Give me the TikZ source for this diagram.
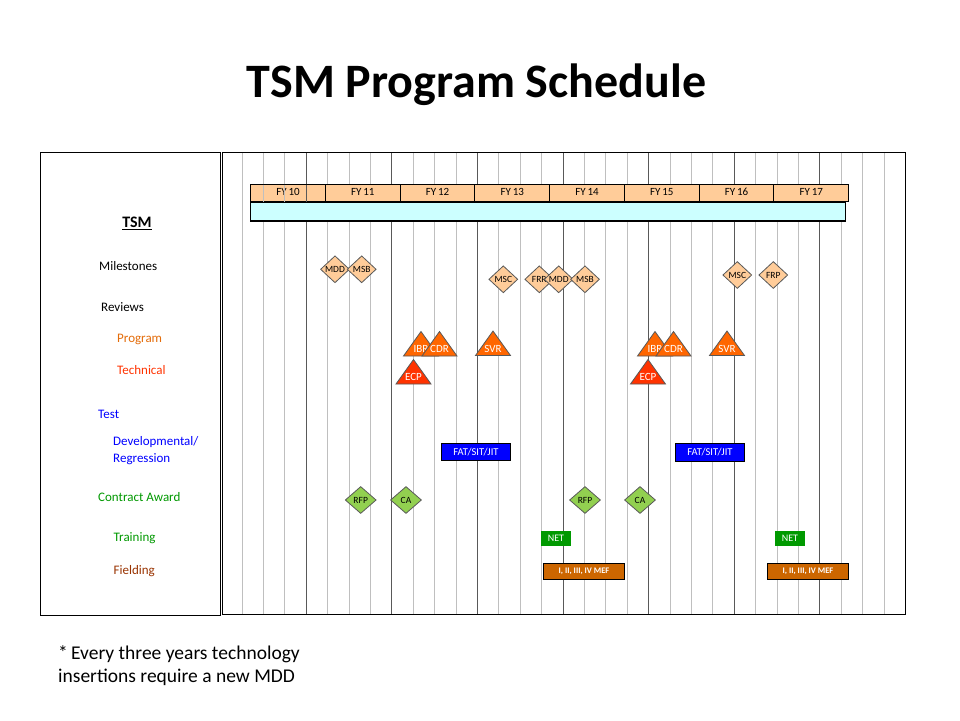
\documentclass[tikz,border=0pt]{standalone}
\usepackage{fontspec}
\setmainfont{Carlito}
\usetikzlibrary{shapes.geometric}

\definecolor{peach}{HTML}{FFCC99}
\definecolor{tsmcyan}{HTML}{CCFFFF}
\definecolor{gridlight}{HTML}{BFBFBF}
\definecolor{griddark}{HTML}{595959}
\definecolor{progfill}{HTML}{FF6600}
\definecolor{techfill}{HTML}{FF3300}
\definecolor{testblue}{HTML}{0000FF}
\definecolor{awardgreen}{HTML}{92D050}
\definecolor{netgreen}{HTML}{009900}
\definecolor{fieldfill}{HTML}{CC6600}
\definecolor{proglbl}{HTML}{E46C0A}
\definecolor{techlbl}{HTML}{FF3300}
\definecolor{greenlbl}{HTML}{009900}
\definecolor{fieldlbl}{HTML}{993300}

\tikzset{
  px/.style={font=\fontsize{#1}{#1}\selectfont},
  pxb/.style={font=\fontsize{#1}{#1}\selectfont\bfseries},
  title/.style={pxb=48, inner sep=0},
  panel/.style={draw=black, line width=1pt},
  gridl/.style={draw=gridlight, line width=1pt},
  gridd/.style={draw=griddark, line width=1pt},
  rowlbl/.style={anchor=west, inner sep=0, text height=0.64em, text depth=0pt, px=13},
  fycell/.style={draw=black, fill=peach, line width=1pt, anchor=north west,
    minimum width=74.75pt, minimum height=17.5pt, inner sep=0, outer sep=0,
    px=11, text height=0.64em, text depth=0pt},
  tsmbar/.style={draw=black, fill=tsmcyan, line width=1.2pt, anchor=north west,
    minimum width=594.6pt, minimum height=18.5pt, inner sep=0, outer sep=0},
  msdiamond/.style={diamond, draw=griddark, fill=peach, line width=0.8pt,
    minimum width=29pt, minimum height=27pt, inner sep=0, px=9.5},
  awdiamond/.style={diamond, draw=griddark, fill=awardgreen, line width=0.8pt,
    minimum width=31pt, minimum height=27pt, inner sep=0, px=9.5},
  tritext/.style={text=white, inner sep=0, px=11, text height=0.64em, text depth=0pt},
  testbox/.style={draw=black, fill=testblue, text=white, line width=1pt,
    minimum width=69.4pt, minimum height=17.4pt, inner sep=0, px=10.5},
  netbox/.style={fill=netgreen, text=white,
    minimum width=29.4pt, minimum height=14.7pt, inner sep=0, px=10},
  mefbox/.style={draw=black, fill=fieldfill, text=white, line width=1pt,
    minimum width=81.4pt, minimum height=16pt, inner sep=0, pxb=8.5},
  note/.style={anchor=west, inner sep=0, px=19.5, text height=0.64em, text depth=0pt},
  pics/revtri/.style n args={2}{code={
    \path[draw=griddark, fill=#1, line width=0.8pt]
      (0,0) -- (17.5,24.5) -- (-17.5,24.5) -- cycle;
    \node[tritext] (-lbl) at (0,18) {#2};
  }}
}

\begin{document}
\begin{tikzpicture}[x=1pt,y=-1pt]
\useasboundingbox[fill=white] (0,0) rectangle (960,720);

% heading
\node[title] (head) at (476.5,85) {TSM Program Schedule};

% quarter grid: light lines, every fourth one darker
\foreach \k in {0,...,30}
  \draw[gridl] ({242+21.4*\k},152) -- ({242+21.4*\k},614);
\foreach \k in {3,7,...,27}
  \draw[gridd] ({242+21.4*\k},152) -- ({242+21.4*\k},614);

% panels
\draw[panel] (40,152) rectangle (220,615);
\draw[panel] (222,152) rectangle (905,614);

% fiscal year header
\foreach \i/\yr in {0/10,1/11,2/12,3/13,4/14,5/15,6/16,7/17}
  \node[fycell] (fy\yr) at ({250.7+74.75*\i},184) {FY\,\yr};
\foreach \k in {1,2}
  \draw[gridl] ({242+21.4*\k},184.5) -- ({242+21.4*\k},201.5);
\draw[gridd] ({242+21.4*3},184.5) -- ({242+21.4*3},201.5);

% TSM bar
\node[tsmbar] (tsm) at (250.7,202.5) {};

% row titles
\node[pxb=16, inner sep=0] (ltsm) at (137,223) {\underline{TSM}};
\node[rowlbl] (lmile) at (99,267) {Milestones};
\node[rowlbl] (lrev) at (101,308) {Reviews};
\node[rowlbl, text=proglbl] (lprog) at (117,339) {Program};
\node[rowlbl, text=techlbl] (ltech) at (117,371) {Technical};
\node[rowlbl, text=testblue] (ltest) at (98,415) {Test};
\node[rowlbl, text=testblue] (ldev) at (113,442) {Developmental/};
\node[rowlbl, text=testblue] (lreg) at (113,459) {Regression};
\node[rowlbl, text=greenlbl] (laward) at (98,498) {Contract Award};
\node[rowlbl, text=greenlbl] (ltrain) at (113.5,538) {Training};
\node[rowlbl, text=fieldlbl] (lfield) at (113.5,571) {Fielding};

% milestones
\node[msdiamond] (mdda) at (335,269.3) {MDD};
\node[msdiamond] (msba) at (361.7,269.3) {MSB};
\node[msdiamond] (msca) at (503.3,279.3) {MSC};
\node[msdiamond] (frr) at (539.3,279.3) {FRR};
\node[msdiamond] (mddb) at (558.7,279.3) {MDD};
\node[msdiamond] (msbb) at (585,279.3) {MSB};
\node[msdiamond] (mscb) at (737.3,275) {MSC};
\node[msdiamond] (frp) at (773.3,275) {FRP};

% program reviews
\pic (ibra) at (421,331.5) {revtri={progfill}{IBR}};
\pic (cdra) at (439.5,331.5) {revtri={progfill}{CDR}};
\pic (svra) at (493,331) {revtri={progfill}{SVR}};
\pic (ibrb) at (655,331.5) {revtri={progfill}{IBR}};
\pic (cdrb) at (673.5,331.5) {revtri={progfill}{CDR}};
\pic (svrb) at (727,331) {revtri={progfill}{SVR}};

% technical reviews
\pic (ecpa) at (413.5,359.5) {revtri={techfill}{ECP}};
\pic (ecpb) at (648,359.5) {revtri={techfill}{ECP}};

% developmental / regression test
\node[testbox] (fata) at (476,452) {FAT/SIT/JIT};
\node[testbox] (fatb) at (710,452.3) {FAT/SIT/JIT};

% contract award
\node[awdiamond] (rfpa) at (360.7,500) {RFP};
\node[awdiamond] (caa) at (406,500) {CA};
\node[awdiamond] (rfpb) at (585,500) {RFP};
\node[awdiamond] (cab) at (640,500) {CA};

% training
\node[netbox] (neta) at (556,538.7) {NET};
\node[netbox] (netb) at (790,538.7) {NET};

% fielding
\node[mefbox] (mefa) at (584,571.3) {I, II, III, IV MEF};
\node[mefbox] (mefb) at (808,571.3) {I, II, III, IV MEF};

% footnote
\node[note] (nta) at (58,656) {*\,Every three years technology};
\node[note] (ntb) at (58,679) {insertions require a new MDD};
\end{tikzpicture}
\end{document}
